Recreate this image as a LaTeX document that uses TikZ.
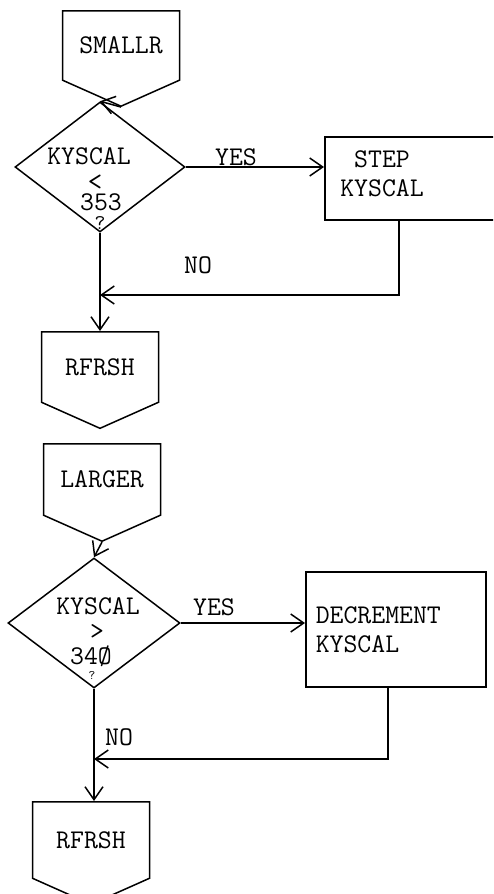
\documentclass[tikz,border=0pt]{standalone}
\usepackage{fontspec}
\usetikzlibrary{shapes.geometric,shapes.symbols,arrows.meta}

\begin{document}
\begin{tikzpicture}[x=1pt,y=-1pt,
	line width=1.5pt,
	every node/.style={font=\ttfamily\fontsize{27}{29}\selectfont},
	tight/.style={inner sep=0pt},
	offpage/.style={draw, signal, signal to=south, signal from=nowhere, signal pointer angle=132, minimum width=117pt, minimum height=88pt, inner sep=0pt},
	decision/.style={draw, diamond, minimum width=170pt, minimum height=130pt, inner sep=0pt},
	proc/.style={draw, rectangle, inner sep=0pt},
	flow/.style={-{Straight Barb[length=13pt,width=18pt]}}]
	\useasboundingbox (0,0) rectangle (493,894);
	\clip (0,0) rectangle (493,894);
	
	\node[offpage, anchor=north] (s1) at (121,10) {SMALLR};
	\node[decision] (d1) at (100,167) {};
	\node[tight] (k1) at (89,156) {KYSCAL};
	\node[tight, font=\ttfamily\fontsize{28}{28}\selectfont] (lt) at (95,183) {<};
	\node[tight] (n353) at (101,202) {353};
	\node[tight, font=\ttfamily\fontsize{21}{22}\selectfont] (q1) at (100,223) {?};
	\node (yes1) at (236,157) {YES};
	\node[proc, minimum width=200pt, minimum height=83pt, anchor=north west] (step) at (324,136) {};
	\node[align=center] (steptxt) at (382,174) {STEP\\KYSCAL};
	\node (no1) at (198,265) {NO};
	\node[offpage, anchor=north, minimum height=86pt] (r1) at (100,331) {RFRSH};
	\coordinate (j1) at (100,295);
	
	\draw[flow] (s1.south) -- (d1.north);
	\draw[flow] (d1.east) -- (d1.east -| step.west);
	\draw[flow] ([xshift=75pt]step.south west) |- (j1);
	\draw[flow] (d1.south) -- (r1.north);
	
	\node[offpage, anchor=north, minimum height=90pt] (s2) at (102,443) {LARGER};
	\node[decision, minimum width=172pt] (d2) at (94,623) {};
	\node[tight] (k2) at (98,606) {KYSCAL};
	\node[tight] (gt) at (97,632) {>};
	\node[tight] (n340) at (91,656) {34Ø};
	\node[tight, font=\ttfamily\fontsize{13}{14}\selectfont] (q2) at (92,675) {?};
	\node (yes2) at (214,607) {YES};
	\node[proc, minimum width=180pt, minimum height=115pt, anchor=north west, text width=160pt, align=left] (dec) at (305,571) {DECREMENT\\KYSCAL};
	\node (no2) at (119,737) {NO};
	\node[offpage, anchor=north, minimum height=92pt] (r2) at (91,801) {RFRSH};
	\coordinate (j2) at (94,759);
	
	\draw[flow] (s2.south) -- (d2.north);
	\draw[flow] (d2.east) -- (d2.east -| dec.west);
	\draw[flow] ([xshift=83pt]dec.south west) |- (j2);
	\draw[flow] (d2.south) -- (d2.south |- r2.north);
\end{tikzpicture}
\end{document}
